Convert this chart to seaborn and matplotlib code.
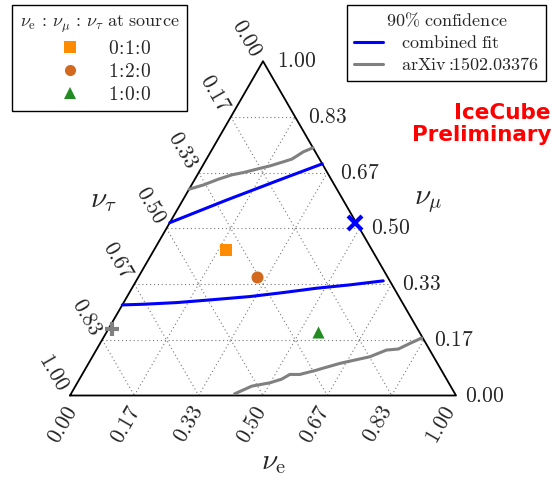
import numpy as np
import pandas as pd
import matplotlib
matplotlib.use("Agg")
import matplotlib.pyplot as plt
from matplotlib.lines import Line2D
import seaborn as sns

# ternary tick values / labels (1/6 steps)
ticks = [0, 1/6, 2/6, 3/6, 4/6, 5/6, 1]
tick_labels = ["0.00", "0.17", "0.33", "0.50", "0.67", "0.83", "1.00"]

# 90% contours as (nu_e, nu_mu) fractions
fit_upper_e = [0.0, 0.114, 0.215, 0.307]
fit_upper_mu = [0.517, 0.585, 0.642, 0.693]
fit_lower_e = [0.0, 0.054, 0.138, 0.220, 0.318, 0.399, 0.479, 0.560, 0.640]
fit_lower_mu = [0.271, 0.273, 0.278, 0.286, 0.296, 0.308, 0.321, 0.331, 0.343]

arxiv_upper_e = [0.0, 0.031, 0.061, 0.089, 0.116, 0.145, 0.175, 0.203, 0.221, 0.229, 0.240, 0.259]
arxiv_upper_mu = [0.617, 0.630, 0.647, 0.660, 0.667, 0.677, 0.687, 0.699, 0.707, 0.716, 0.729, 0.741]
arxiv_lower_e = [0.424, 0.457, 0.499, 0.524, 0.538, 0.564, 0.601, 0.608, 0.651, 0.719, 0.752, 0.781, 0.803, 0.825]
arxiv_lower_mu = [0.005, 0.028, 0.038, 0.049, 0.063, 0.063, 0.076, 0.079, 0.096, 0.116, 0.136, 0.139, 0.156, 0.172]

# best fits
fit_best = (0.48, 0.516)
arxiv_best = (0.01, 0.20)

# source flavour ratios -> expected at Earth
src_labels = ["0:1:0", "1:2:0", "1:0:0"]
src_e = [0.187, 0.307, 0.548]
src_mu = [0.435, 0.355, 0.190]
src_colors = ["#ff8c00", "#d2691e", "#228b22"]
src_markers = ["s", "o", "^"]

H = np.sqrt(3) / 2


def to_xy(e, mu):
    e = np.asarray(e, dtype=float)
    mu = np.asarray(mu, dtype=float)
    return e + mu / 2, mu * H


sns.set_style("white")
plt.rcParams["mathtext.fontset"] = "cm"

fig = plt.figure(figsize=(5.52, 4.79), dpi=100)
ax = fig.add_axes([0, 0, 1, 1])
ax.set_xlim(-70 / 386, 482 / 386)
ax.set_ylim(-83.5 / 386, 395.5 / 386)
ax.axis("off")

# dotted grid
for t in ticks[1:-1]:
    for (e0, m0), (e1, m1) in [((0, t), (1 - t, t)),          # const mu
                               ((t, 0), (t, 1 - t)),          # const e
                               ((0, 1 - t), (1 - t, 0))]:     # const tau
        gx, gy = to_xy([e0, e1], [m0, m1])
        ax.plot(gx, gy, ls=(0, (1, 2.5)), color="#777777", lw=0.8, zorder=1)

# triangle
tx, ty = to_xy([0, 1, 0, 0], [0, 0, 1, 0])
ax.plot(tx, ty, color="black", lw=1.3, zorder=3)

# contours
curves = [(fit_upper_e, fit_upper_mu, "blue"), (fit_lower_e, fit_lower_mu, "blue"),
          (arxiv_upper_e, arxiv_upper_mu, "gray"), (arxiv_lower_e, arxiv_lower_mu, "gray")]
for ce, cm, col in curves:
    cx, cy = to_xy(ce, cm)
    df = pd.DataFrame({"x": cx, "y": cy})
    sns.lineplot(data=df, x="x", y="y", ax=ax, color=col, lw=2.2,
                 sort=False, estimator=None, legend=False, zorder=4)

# source points
sx, sy = to_xy(src_e, src_mu)
for i in range(len(src_labels)):
    sns.scatterplot(x=[sx[i]], y=[sy[i]], ax=ax, marker=src_markers[i],
                    color=src_colors[i], s=75, linewidth=0, zorder=5, legend=False)

bx, by = to_xy([fit_best[0]], [fit_best[1]])
ax.plot(bx, by, marker="x", color="blue", ms=10, mew=3, ls="none", zorder=6)
ax2x, ax2y = to_xy([arxiv_best[0]], [arxiv_best[1]])
ax.plot(ax2x, ax2y, marker="+", color="gray", ms=10, mew=3, ls="none", zorder=6)

# tick labels
fs = 15.5
for t, lab in zip(ticks, tick_labels):
    # bottom: nu_e
    px, py = to_xy([t], [0])
    ax.text(px[0] + (3 - 8 * t) / 386, -12 / 386, "$" + lab + "$", rotation=60,
            ha="right", va="center", rotation_mode="anchor", fontsize=fs)
    # right: nu_mu
    px, py = to_xy([1 - t], [t])
    ax.text(px[0] + (9 + 5 * t) / 386, py[0], "$" + lab + "$",
            ha="left", va="center", fontsize=fs)
    # left: nu_tau
    px, py = to_xy([0], [1 - t])
    ax.text(px[0] - 6 / 386, py[0] + 6 / 386, "$" + lab + "$", rotation=-60,
            ha="right", va="center", rotation_mode="anchor", fontsize=fs)

# axis labels
ax.text((103 - 70) / 386, (395.5 - 200) / 386, r"$\nu_\tau$", fontsize=21, ha="center", va="center")
ax.text((428 - 70) / 386, (395.5 - 201) / 386, r"$\nu_\mu$", fontsize=21, ha="center", va="center")
ax.text((273 - 70) / 386, (395.5 - 462) / 386, r"$\nu_\mathrm{e}$", fontsize=21, ha="center", va="center")

# IceCube Preliminary
fig.text(551 / 552, 1 - 113 / 479, "IceCube", color="red", fontsize=15.5,
         fontweight="bold", ha="right", va="center", family="DejaVu Sans")
fig.text(551 / 552, 1 - 135 / 479, "Preliminary", color="red", fontsize=15.5,
         fontweight="bold", ha="right", va="center", family="DejaVu Sans")

# legends
src_handles = [Line2D([], [], ls="none", marker=m, color=c, ms=8, mew=0)
               for m, c in zip(src_markers, src_colors)]
src_texts = ["$" + l.replace(":", r"\!:\!") + "$" for l in src_labels]
leg1 = ax.legend(src_handles, src_texts,
                 title=r"$\nu_\mathrm{e}\,:\,\nu_\mu\,:\,\nu_\tau\ \mathrm{at\ source}$",
                 loc="upper left", bbox_to_anchor=(12 / 552, 1 - 5 / 479),
                 bbox_transform=fig.transFigure, borderaxespad=0, fontsize=14,
                 title_fontsize=13, fancybox=False, edgecolor="black", framealpha=1,
                 handlelength=2.3, handletextpad=0.8, labelspacing=0.2, borderpad=0.4)
leg1.get_frame().set_linewidth(1.0)
ax.add_artist(leg1)

cl_handles = [Line2D([], [], color="blue", lw=2.2), Line2D([], [], color="gray", lw=2.2)]
leg2 = ax.legend(cl_handles, [r"$\mathrm{combined\ fit}$", r"$\mathrm{arXiv}:\!\!\mathrm{1502.03376}$"],
                 title=r"$90\%\ \mathrm{confidence}$",
                 loc="upper left", bbox_to_anchor=(347 / 552, 1 - 5 / 479),
                 bbox_transform=fig.transFigure, borderaxespad=0, fontsize=13,
                 title_fontsize=13, fancybox=False, edgecolor="black", framealpha=1,
                 handlelength=1.6, handletextpad=1.0, labelspacing=0.2, borderpad=0.4)
leg2.get_frame().set_linewidth(1.0)

fig.savefig("out.png", dpi=100)
